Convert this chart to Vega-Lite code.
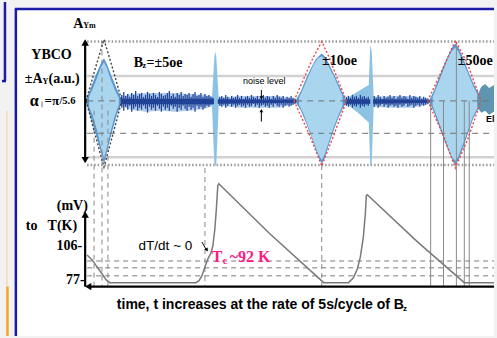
{
"$schema": "https://vega.github.io/schema/vega-lite/v6.json",
"width": 497, "height": 338, "padding": 0,
"autosize": {"type": "fit", "contains": "padding"},
"background": "#f2f2f2",
"config": {"view": {"stroke": null}},
"datasets": {
"bg": [{"x":14,"y":8,"x2":497,"y2":338}],
"frame": [{"x":13,"y":7,"x2":497,"y2":7},{"x":14,"y":7,"x2":14,"y2":338},{"x":3,"y":0,"x2":3,"y2":80},{"x":0,"y":80,"x2":4,"y2":80}],
"orangeThin": [{"x":5,"y":110,"x2":5,"y2":288}],
"orangeThick": [{"x":5.5,"y":288,"x2":5.5,"y2":338}],
"dotted": [{"x":86,"y":40,"x2":497,"y2":40},{"x":86,"y":165,"x2":497,"y2":165}],
"solidGrid": [{"x":86,"y":75,"x2":497,"y2":75},{"x":86,"y":157,"x2":497,"y2":157}],
"lowDash": [{"x":86,"y":262,"x2":497,"y2":262},{"x":86,"y":269,"x2":497,"y2":269},{"x":86,"y":277,"x2":497,"y2":277}],
"midDash": [{"x":86,"y":100,"x2":497,"y2":100},{"x":86,"y":133,"x2":497,"y2":133}],
"vDash": [{"x":93,"y":110,"x2":93,"y2":288},{"x":101,"y":40,"x2":101,"y2":288},{"x":107,"y":110,"x2":107,"y2":288},{"x":205,"y":168,"x2":205,"y2":288},{"x":323,"y":165,"x2":323,"y2":288}],
"vSolid": [{"x":433,"y":100,"x2":433,"y2":288},{"x":446,"y":100,"x2":446,"y2":288},{"x":459,"y":40,"x2":459,"y2":288},{"x":467,"y":100,"x2":467,"y2":288},{"x":472,"y":100,"x2":472,"y2":288}],
"halo": [
{"seg":"A","x":120,"y":96,"y2":105},{"seg":"A","x":130,"y":93,"y2":109},{"seg":"A","x":145,"y":92,"y2":111},{"seg":"A","x":160,"y":92,"y2":110},{"seg":"A","x":175,"y":92,"y2":111},{"seg":"A","x":190,"y":93,"y2":110},{"seg":"A","x":205,"y":94,"y2":108},{"seg":"A","x":214,"y":96,"y2":105},
{"seg":"B","x":218,"y":97,"y2":105},{"seg":"B","x":240,"y":95,"y2":107},{"seg":"B","x":260,"y":95,"y2":107},{"seg":"B","x":280,"y":95,"y2":107},{"seg":"B","x":297,"y":98,"y2":103},
{"seg":"C","x":375,"y":96,"y2":106},{"seg":"C","x":395,"y":95,"y2":107},{"seg":"C","x":415,"y":95,"y2":107},{"seg":"C","x":432,"y":98,"y2":103}],
"outer": [
{"seg":"b1","x":85,"y":99,"y2":102},{"seg":"b1","x":90,"y":86,"y2":118},{"seg":"b1","x":95,"y":73,"y2":135},{"seg":"b1","x":100,"y":62,"y2":152},{"seg":"b1","x":103,"y":57,"y2":164},{"seg":"b1","x":106,"y":63,"y2":152},{"seg":"b1","x":111,"y":76,"y2":132},{"seg":"b1","x":116,"y":88,"y2":114},{"seg":"b1","x":121,"y":99,"y2":102},
{"seg":"b3","x":297,"y":99,"y2":102},{"seg":"b3","x":302,"y":90,"y2":110},{"seg":"b3","x":307,"y":78,"y2":122},{"seg":"b3","x":312,"y":67,"y2":135},{"seg":"b3","x":317,"y":58,"y2":150},{"seg":"b3","x":321,"y":54,"y2":160},{"seg":"b3","x":323,"y":52,"y2":164},{"seg":"b3","x":326,"y":55,"y2":158},{"seg":"b3","x":330,"y":62,"y2":145},{"seg":"b3","x":335,"y":72,"y2":130},{"seg":"b3","x":340,"y":83,"y2":117},{"seg":"b3","x":344,"y":92,"y2":108},{"seg":"b3","x":347,"y":98,"y2":103},
{"seg":"b4","x":432,"y":99,"y2":102},{"seg":"b4","x":437,"y":88,"y2":113},{"seg":"b4","x":442,"y":75,"y2":127},{"seg":"b4","x":447,"y":62,"y2":141},{"seg":"b4","x":452,"y":51,"y2":153},{"seg":"b4","x":456,"y":44,"y2":162},{"seg":"b4","x":458,"y":42,"y2":165},{"seg":"b4","x":461,"y":46,"y2":160},{"seg":"b4","x":466,"y":57,"y2":147},{"seg":"b4","x":471,"y":70,"y2":132},{"seg":"b4","x":476,"y":82,"y2":118},{"seg":"b4","x":480,"y":90,"y2":110},{"seg":"b4","x":484,"y":96,"y2":105}],
"inner": [
{"seg":"b1","x":88,"y":96,"y2":106},{"seg":"b1","x":92,"y":87,"y2":116},{"seg":"b1","x":96,"y":77,"y2":130},{"seg":"b1","x":100,"y":66,"y2":147},{"seg":"b1","x":103,"y":61,"y2":158},{"seg":"b1","x":106,"y":67,"y2":147},{"seg":"b1","x":110,"y":79,"y2":130},{"seg":"b1","x":114,"y":89,"y2":115},{"seg":"b1","x":118,"y":97,"y2":104},
{"seg":"b3","x":300,"y":97,"y2":104},{"seg":"b3","x":305,"y":86,"y2":114},{"seg":"b3","x":310,"y":74,"y2":128},{"seg":"b3","x":315,"y":63,"y2":142},{"seg":"b3","x":319,"y":57,"y2":153},{"seg":"b3","x":323,"y":55,"y2":160},{"seg":"b3","x":326,"y":58,"y2":154},{"seg":"b3","x":330,"y":65,"y2":142},{"seg":"b3","x":335,"y":75,"y2":127},{"seg":"b3","x":340,"y":86,"y2":114},{"seg":"b3","x":344,"y":95,"y2":105},
{"seg":"b4","x":435,"y":96,"y2":105},{"seg":"b4","x":440,"y":84,"y2":118},{"seg":"b4","x":445,"y":71,"y2":132},{"seg":"b4","x":450,"y":58,"y2":146},{"seg":"b4","x":454,"y":50,"y2":156},{"seg":"b4","x":458,"y":46,"y2":161},{"seg":"b4","x":461,"y":50,"y2":156},{"seg":"b4","x":466,"y":61,"y2":143},{"seg":"b4","x":471,"y":73,"y2":129},{"seg":"b4","x":476,"y":85,"y2":115},{"seg":"b4","x":481,"y":95,"y2":106}],
"spikes": [
{"seg":"s1","x":212,"y":99,"y2":102},{"seg":"s1","x":214.5,"y":56,"y2":164},{"seg":"s1","x":215.5,"y":50,"y2":166},{"seg":"s1","x":216.5,"y":56,"y2":164},{"seg":"s1","x":219,"y":99,"y2":102},
{"seg":"f","x":347,"y":98,"y2":103},{"seg":"f","x":352,"y":95,"y2":106},{"seg":"f","x":357,"y":92,"y2":110},{"seg":"f","x":362,"y":89,"y2":114},{"seg":"f","x":367,"y":86,"y2":119},{"seg":"f","x":370.5,"y":84,"y2":122},{"seg":"f","x":372,"y":43,"y2":166},{"seg":"f","x":373.5,"y":50,"y2":164},{"seg":"f","x":375.5,"y":97,"y2":104}],
"teal": [{"x":480,"y":95,"y2":106},{"x":484,"y":86,"y2":112},{"x":488,"y":83,"y2":110},{"x":492,"y":87,"y2":114},{"x":497,"y":84,"y2":111}],
"base": [
{"seg":"A","x":120,"y":98,"y2":103.5},{"seg":"A","x":214,"y":98,"y2":103.5},
{"seg":"B","x":218,"y":98.5,"y2":103},{"seg":"B","x":297,"y":99,"y2":102},
{"seg":"F","x":347,"y":98.5,"y2":103},{"seg":"F","x":372,"y":98.5,"y2":103},
{"seg":"C","x":375,"y":98.5,"y2":103},{"seg":"C","x":432,"y":99,"y2":102}],
"ticks": [
{"x":121,"y":94,"y2":107},{"x":123,"y":91,"y2":110},{"x":125,"y":95,"y2":106},{"x":127,"y":93,"y2":109},{"x":129,"y":96,"y2":105},{"x":131,"y":92,"y2":111},{"x":133,"y":94,"y2":108},{"x":135,"y":90,"y2":106},{"x":137,"y":95,"y2":110},{"x":139,"y":93,"y2":107},{"x":141,"y":92,"y2":109},{"x":143,"y":96,"y2":105},{"x":145,"y":94,"y2":108},{"x":147,"y":91,"y2":112},{"x":149,"y":93,"y2":106},{"x":151,"y":95,"y2":109},{"x":153,"y":92,"y2":107},{"x":155,"y":94,"y2":110},{"x":157,"y":96,"y2":105},{"x":159,"y":91,"y2":108},{"x":161,"y":93,"y2":111},{"x":163,"y":95,"y2":106},{"x":165,"y":94,"y2":109},{"x":167,"y":92,"y2":107},{"x":169,"y":90,"y2":110},{"x":171,"y":95,"y2":105},{"x":173,"y":93,"y2":108},{"x":175,"y":96,"y2":106},{"x":177,"y":92,"y2":111},{"x":179,"y":94,"y2":107},{"x":181,"y":91,"y2":109},{"x":183,"y":95,"y2":105},{"x":185,"y":93,"y2":108},{"x":187,"y":94,"y2":110},{"x":189,"y":92,"y2":106},{"x":191,"y":96,"y2":109},{"x":193,"y":93,"y2":107},{"x":195,"y":91,"y2":111},{"x":197,"y":95,"y2":105},{"x":199,"y":94,"y2":108},{"x":201,"y":92,"y2":106},{"x":203,"y":96,"y2":109},{"x":205,"y":93,"y2":107},{"x":207,"y":95,"y2":105},{"x":209,"y":94,"y2":106},{"x":211,"y":96,"y2":104},{"x":213,"y":97,"y2":103},
{"x":220,"y":96,"y2":105},{"x":222,"y":95,"y2":106},{"x":224,"y":97,"y2":104},{"x":226,"y":94,"y2":107},{"x":228,"y":96,"y2":105},{"x":230,"y":98,"y2":103},{"x":232,"y":95,"y2":106},{"x":234,"y":97,"y2":104},{"x":236,"y":96,"y2":107},{"x":238,"y":94,"y2":105},{"x":240,"y":97,"y2":104},{"x":242,"y":95,"y2":106},{"x":244,"y":98,"y2":105},{"x":246,"y":96,"y2":107},{"x":248,"y":95,"y2":104},{"x":250,"y":97,"y2":106},{"x":252,"y":94,"y2":105},{"x":254,"y":96,"y2":103},{"x":256,"y":97,"y2":106},{"x":258,"y":95,"y2":104},{"x":260,"y":98,"y2":107},{"x":262,"y":96,"y2":105},{"x":264,"y":94,"y2":104},{"x":266,"y":97,"y2":106},{"x":268,"y":95,"y2":105},{"x":270,"y":96,"y2":107},{"x":272,"y":98,"y2":104},{"x":274,"y":95,"y2":106},{"x":276,"y":97,"y2":103},{"x":278,"y":94,"y2":105},{"x":280,"y":96,"y2":106},{"x":282,"y":97,"y2":104},{"x":284,"y":95,"y2":107},{"x":286,"y":98,"y2":105},{"x":288,"y":96,"y2":104},{"x":290,"y":97,"y2":106},{"x":292,"y":95,"y2":105},{"x":294,"y":97,"y2":104},{"x":296,"y":98,"y2":103},
{"x":348,"y":96,"y2":105},{"x":350,"y":95,"y2":106},{"x":352,"y":97,"y2":104},{"x":354,"y":94,"y2":107},{"x":356,"y":96,"y2":105},{"x":358,"y":95,"y2":106},{"x":360,"y":97,"y2":104},{"x":362,"y":94,"y2":107},{"x":364,"y":96,"y2":105},{"x":366,"y":95,"y2":106},{"x":368,"y":97,"y2":104},{"x":370,"y":96,"y2":105},
{"x":376,"y":95,"y2":106},{"x":378,"y":97,"y2":104},{"x":380,"y":94,"y2":107},{"x":382,"y":96,"y2":105},{"x":384,"y":98,"y2":103},{"x":386,"y":95,"y2":106},{"x":388,"y":97,"y2":104},{"x":390,"y":96,"y2":107},{"x":392,"y":94,"y2":105},{"x":394,"y":97,"y2":104},{"x":396,"y":95,"y2":106},{"x":398,"y":98,"y2":105},{"x":400,"y":96,"y2":107},{"x":402,"y":94,"y2":104},{"x":404,"y":97,"y2":106},{"x":406,"y":95,"y2":105},{"x":408,"y":96,"y2":103},{"x":410,"y":98,"y2":106},{"x":412,"y":94,"y2":105},{"x":414,"y":97,"y2":104},{"x":416,"y":95,"y2":107},{"x":418,"y":96,"y2":105},{"x":420,"y":97,"y2":104},{"x":422,"y":95,"y2":106},{"x":424,"y":98,"y2":104},{"x":426,"y":96,"y2":105},{"x":428,"y":97,"y2":104},{"x":430,"y":98,"y2":103}],
"redEnv": [
{"seg":"t3","i":0,"x":295,"y":100},{"seg":"t3","i":1,"x":306,"y":75},{"seg":"t3","i":2,"x":314,"y":57},{"seg":"t3","i":3,"x":323,"y":40},{"seg":"t3","i":4,"x":330,"y":55},{"seg":"t3","i":5,"x":339,"y":78},{"seg":"t3","i":6,"x":348,"y":100},
{"seg":"u3","i":0,"x":295,"y":100},{"seg":"u3","i":1,"x":310,"y":133},{"seg":"u3","i":2,"x":323,"y":166},{"seg":"u3","i":3,"x":335,"y":135},{"seg":"u3","i":4,"x":348,"y":100},
{"seg":"t4","i":0,"x":430,"y":100},{"seg":"t4","i":1,"x":445,"y":68},{"seg":"t4","i":2,"x":458,"y":39},{"seg":"t4","i":3,"x":470,"y":62},{"seg":"t4","i":4,"x":484,"y":100},
{"seg":"u4","i":0,"x":430,"y":100},{"seg":"u4","i":1,"x":445,"y":133},{"seg":"u4","i":2,"x":458,"y":168},{"seg":"u4","i":3,"x":470,"y":140},{"seg":"u4","i":4,"x":484,"y":100}],
"grayEnv": [
{"seg":"t1","i":0,"x":85,"y":100},{"seg":"t1","i":1,"x":94,"y":68},{"seg":"t1","i":2,"x":103,"y":38},{"seg":"t1","i":3,"x":112,"y":68},{"seg":"t1","i":4,"x":121,"y":100},
{"seg":"u1","i":0,"x":85,"y":100},{"seg":"u1","i":1,"x":94,"y":134},{"seg":"u1","i":2,"x":103,"y":167},{"seg":"u1","i":3,"x":112,"y":134},{"seg":"u1","i":4,"x":121,"y":100}],
"temp": [
{"i":0,"x":86,"y":256},{"i":1,"x":91,"y":261},{"i":2,"x":96,"y":268},{"i":3,"x":101,"y":275},{"i":4,"x":105,"y":281},{"i":5,"x":109,"y":284},{"i":6,"x":196,"y":284},{"i":7,"x":199,"y":282},{"i":8,"x":202,"y":277},{"i":9,"x":205,"y":268},{"i":10,"x":208,"y":260},{"i":11,"x":211,"y":254},{"i":12,"x":213,"y":247},{"i":13,"x":215,"y":230},{"i":14,"x":216.5,"y":210},{"i":15,"x":218,"y":186},{"i":16,"x":219,"y":184},{"i":17,"x":270,"y":234},{"i":18,"x":325,"y":284},{"i":19,"x":350,"y":284},{"i":20,"x":355,"y":279},{"i":21,"x":359,"y":270},{"i":22,"x":362,"y":258},{"i":23,"x":365,"y":238},{"i":24,"x":367,"y":215},{"i":25,"x":368,"y":196},{"i":26,"x":369,"y":195},{"i":27,"x":420,"y":243},{"i":28,"x":467,"y":284},{"i":29,"x":497,"y":284}],
"arrowRules": [{"x":84,"y":42,"x2":84,"y2":159},{"x":84,"y":216,"x2":84,"y2":288},{"x":88,"y":288,"x2":497,"y2":288}],
"smallArrowRules": [{"x":262,"y":89,"x2":262,"y2":96},{"x":262,"y":111,"x2":262,"y2":121},{"x":202,"y":243,"x2":206,"y2":250}],
"heads": [{"x":84,"y":41,"dir":"up"},{"x":84,"y":160,"dir":"down"},{"x":84,"y":215,"dir":"up"},{"x":87,"y":288,"dir":"left"}],
"smallHeads": [{"x":262,"y":97,"dir":"down"},{"x":262,"y":110,"dir":"up"}],
"dtHead": [{"x":207,"y":251}],
"serifC14": [{"x":50,"y":54,"t":"YBCO"},{"x":341,"y":60,"t":"±10oe"},{"x":478,"y":60,"t":"±50oe"},{"x":71,"y":206,"t":"(mV)"},{"x":61,"y":227,"t":"T(K)"},{"x":68,"y":247,"t":"106-"},{"x":74,"y":281,"t":"77-"},{"x":30,"y":227,"t":"to"}],
"serifL14": [{"x":23,"y":78,"t":"±A"},{"x":47,"y":78,"t":"(a.u.)"},{"x":133,"y":62,"t":"B"},{"x":146,"y":62,"t":"=±5oe"},{"x":72,"y":22,"t":"A"}],
"serifL13": [{"x":43,"y":100,"t":"=π"}],
"slash": [{"x":58,"y":100,"t":"/5.6"}],
"alpha": [{"x":28,"y":100,"t":"α"}],
"serifSmall": [{"x":41,"y":81,"t":"Y"},{"x":82,"y":24,"t":"Ym"},{"x":142,"y":65,"t":"z"}],
"parallel": [{"x":39,"y":103,"t":"∥"}],
"noiseText": [{"x":265,"y":80,"t":"noise level"}],
"elText": [{"x":489,"y":118,"t":"El"}],
"dtText": [{"x":138,"y":247,"t":"dT/dt ~ 0"}],
"caption": [{"x":116,"y":307,"t":"time, t increases at the rate of 5s/cycle of B"}],
"captionSub": [{"x":405,"y":311,"t":"z"}],
"tcBig": [{"x":212,"y":258,"t":"T"},{"x":230,"y":258,"t":"~92 K"}],
"tcSub": [{"x":223,"y":262,"t":"c"}]
},
"encoding": {
"x": {"field":"x","type":"quantitative","scale":{"domain":[0,497],"nice":false,"zero":false},"axis":null},
"y": {"field":"y","type":"quantitative","scale":{"domain":[0,338],"nice":false,"zero":false,"reverse":true},"axis":null}
},
"layer": [
{"data":{"name":"bg"},"mark":{"type":"rect","color":"#ffffff"},"encoding":{"x2":{"field":"x2"},"y2":{"field":"y2"}}},
{"data":{"name":"frame"},"mark":{"type":"rule","color":"#1b1ba6","strokeWidth":2.5},"encoding":{"x2":{"field":"x2"},"y2":{"field":"y2"}}},
{"data":{"name":"orangeThin"},"mark":{"type":"rule","color":"#f8cf90","strokeWidth":1},"encoding":{"x2":{"field":"x2"},"y2":{"field":"y2"}}},
{"data":{"name":"orangeThick"},"mark":{"type":"rule","color":"#f5a623","strokeWidth":2.5},"encoding":{"x2":{"field":"x2"},"y2":{"field":"y2"}}},
{"data":{"name":"dotted"},"mark":{"type":"rule","color":"#9a9a9a","strokeWidth":2.5,"strokeDash":[1.5,2]},"encoding":{"x2":{"field":"x2"},"y2":{"field":"y2"}}},
{"data":{"name":"solidGrid"},"mark":{"type":"rule","color":"#d2d2d2","strokeWidth":2.5},"encoding":{"x2":{"field":"x2"},"y2":{"field":"y2"}}},
{"data":{"name":"lowDash"},"mark":{"type":"rule","color":"#a8a8a8","strokeWidth":1.5,"strokeDash":[5,4]},"encoding":{"x2":{"field":"x2"},"y2":{"field":"y2"}}},
{"data":{"name":"halo"},"mark":{"type":"area","color":"#8fb5de","opacity":0.7},"encoding":{"y2":{"field":"y2"},"detail":{"field":"seg"}}},
{"data":{"name":"outer"},"mark":{"type":"area","color":"#5a97cf"},"encoding":{"y2":{"field":"y2"},"detail":{"field":"seg"}}},
{"data":{"name":"inner"},"mark":{"type":"area","color":"#a9d5ee"},"encoding":{"y2":{"field":"y2"},"detail":{"field":"seg"}}},
{"data":{"name":"spikes"},"mark":{"type":"area","color":"#8cc3e4"},"encoding":{"y2":{"field":"y2"},"detail":{"field":"seg"}}},
{"data":{"name":"teal"},"mark":{"type":"area","color":"#5e95b0"},"encoding":{"y2":{"field":"y2"}}},
{"data":{"name":"midDash"},"mark":{"type":"rule","color":"#707070","strokeWidth":1.3,"strokeDash":[6,5],"opacity":0.8},"encoding":{"x2":{"field":"x2"},"y2":{"field":"y2"}}},
{"data":{"name":"base"},"mark":{"type":"area","color":"#1e3e8e"},"encoding":{"y2":{"field":"y2"},"detail":{"field":"seg"}}},
{"data":{"name":"ticks"},"mark":{"type":"rule","color":"#23449a","strokeWidth":1.3},"encoding":{"y2":{"field":"y2"}}},
{"data":{"name":"vDash"},"mark":{"type":"rule","color":"#888888","strokeWidth":1,"strokeDash":[5,4]},"encoding":{"x2":{"field":"x2"},"y2":{"field":"y2"}}},
{"data":{"name":"vSolid"},"mark":{"type":"rule","color":"#8a8a8a","strokeWidth":1},"encoding":{"x2":{"field":"x2"},"y2":{"field":"y2"}}},
{"data":{"name":"redEnv"},"mark":{"type":"line","color":"#e8474a","strokeWidth":1.4,"strokeDash":[2,2]},"encoding":{"detail":{"field":"seg"},"order":{"field":"i"}}},
{"data":{"name":"grayEnv"},"mark":{"type":"line","color":"#444444","strokeWidth":1.4,"strokeDash":[2,2]},"encoding":{"detail":{"field":"seg"},"order":{"field":"i"}}},
{"data":{"name":"temp"},"mark":{"type":"line","color":"#7a7a7a","strokeWidth":1.5},"encoding":{"order":{"field":"i"}}},
{"data":{"name":"arrowRules"},"mark":{"type":"rule","color":"#000000","strokeWidth":2.2},"encoding":{"x2":{"field":"x2"},"y2":{"field":"y2"}}},
{"data":{"name":"smallArrowRules"},"mark":{"type":"rule","color":"#000000","strokeWidth":1},"encoding":{"x2":{"field":"x2"},"y2":{"field":"y2"}}},
{"data":{"name":"heads"},"mark":{"type":"point","filled":true,"color":"#000000","size":55,"opacity":1},"encoding":{"shape":{"field":"dir","type":"nominal","scale":{"domain":["up","down","left"],"range":["triangle-up","triangle-down","triangle-left"]},"legend":null}}},
{"data":{"name":"smallHeads"},"mark":{"type":"point","filled":true,"color":"#000000","size":14,"opacity":1},"encoding":{"shape":{"field":"dir","type":"nominal","scale":{"domain":["up","down","left"],"range":["triangle-up","triangle-down","triangle-left"]},"legend":null}}},
{"data":{"name":"dtHead"},"mark":{"type":"point","shape":"triangle-down","angle":-32,"filled":true,"color":"#000000","size":16,"opacity":1},"encoding":{}},
{"data":{"name":"serifC14"},"mark":{"type":"text","font":"Liberation Serif","fontWeight":"bold","fontSize":14,"align":"center","baseline":"middle","color":"#000000"},"encoding":{"text":{"field":"t"}}},
{"data":{"name":"serifL14"},"mark":{"type":"text","font":"Liberation Serif","fontWeight":"bold","fontSize":14,"align":"left","baseline":"middle","color":"#000000"},"encoding":{"text":{"field":"t"}}},
{"data":{"name":"serifL13"},"mark":{"type":"text","font":"Liberation Serif","fontWeight":"bold","fontSize":13,"align":"left","baseline":"middle","color":"#000000"},"encoding":{"text":{"field":"t"}}},
{"data":{"name":"slash"},"mark":{"type":"text","font":"Liberation Serif","fontWeight":"bold","fontSize":10.5,"align":"left","baseline":"middle","color":"#000000"},"encoding":{"text":{"field":"t"}}},
{"data":{"name":"alpha"},"mark":{"type":"text","font":"Liberation Serif","fontWeight":"bold","fontSize":16,"align":"left","baseline":"middle","color":"#000000"},"encoding":{"text":{"field":"t"}}},
{"data":{"name":"serifSmall"},"mark":{"type":"text","font":"Liberation Serif","fontWeight":"bold","fontSize":8,"align":"left","baseline":"middle","color":"#000000"},"encoding":{"text":{"field":"t"}}},
{"data":{"name":"parallel"},"mark":{"type":"text","font":"DejaVu Sans","fontSize":6,"align":"left","baseline":"middle","color":"#777777"},"encoding":{"text":{"field":"t"}}},
{"data":{"name":"noiseText"},"mark":{"type":"text","font":"Liberation Sans","fontSize":9,"align":"center","baseline":"middle","color":"#000000"},"encoding":{"text":{"field":"t"}}},
{"data":{"name":"elText"},"mark":{"type":"text","font":"Liberation Sans","fontWeight":"bold","fontSize":9,"align":"left","baseline":"middle","color":"#000000"},"encoding":{"text":{"field":"t"}}},
{"data":{"name":"dtText"},"mark":{"type":"text","font":"Liberation Sans","fontSize":13.5,"align":"left","baseline":"middle","color":"#000000"},"encoding":{"text":{"field":"t"}}},
{"data":{"name":"caption"},"mark":{"type":"text","font":"Liberation Sans","fontWeight":"bold","fontSize":14,"align":"left","baseline":"middle","color":"#000000"},"encoding":{"text":{"field":"t"}}},
{"data":{"name":"captionSub"},"mark":{"type":"text","font":"Liberation Sans","fontWeight":"bold","fontSize":8,"align":"left","baseline":"middle","color":"#000000"},"encoding":{"text":{"field":"t"}}},
{"data":{"name":"tcBig"},"mark":{"type":"text","font":"Liberation Serif","fontWeight":"bold","fontSize":16,"align":"left","baseline":"middle","color":"#ff1a86"},"encoding":{"text":{"field":"t"}}},
{"data":{"name":"tcSub"},"mark":{"type":"text","font":"Liberation Serif","fontWeight":"bold","fontSize":10,"align":"left","baseline":"middle","color":"#ff1a86"},"encoding":{"text":{"field":"t"}}}
]
}
